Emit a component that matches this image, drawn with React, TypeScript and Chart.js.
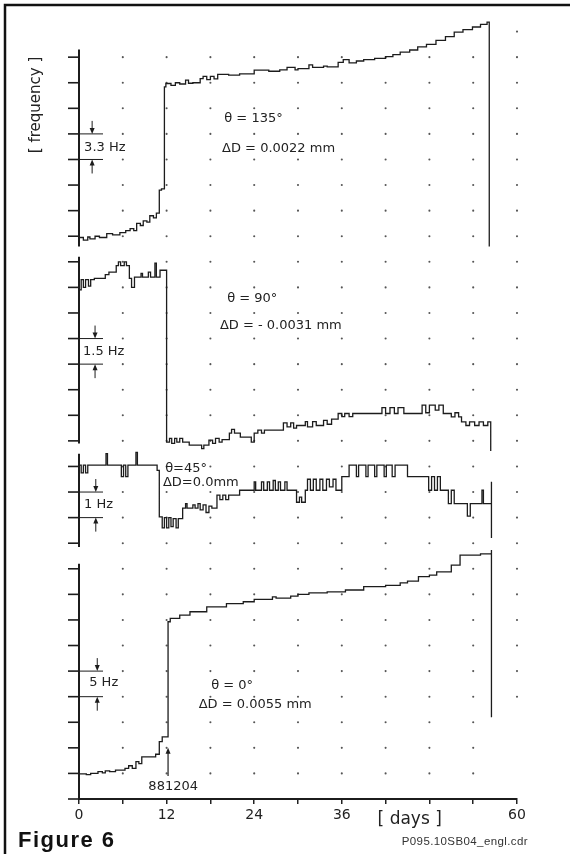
import React, { useEffect, useRef } from "react";
import { Chart, registerables } from "chart.js";

Chart.register(...registerables);

// ---------- data (x = days, y = position in grid rows of the strip chart) ----------
const X_TICK_LABELS = ["0", "", "12", "", "24", "", "36", "", "", "", "60"];

const P135_DAYS = [0, 0.6, 1.2, 1.5, 2.2, 2.8, 3.8, 4.6, 5.6, 6.4, 7.0, 7.5, 7.9, 8.4, 8.8, 9.3, 9.7, 10.2, 10.6, 11.0, 11.3, 11.7, 11.9, 12.6, 13.2, 13.8, 14.6, 15.0, 15.6, 16.6, 17.0, 17.5, 18.0, 18.5, 19.0, 20.5, 22.0, 24.0, 26.0, 27.5, 28.5, 29.6, 30.0, 31.5, 32.0, 33.5, 34.0, 35.5, 36.2, 37.0, 38.0, 39.0, 40.5, 42.0, 43.0, 44.0, 45.3, 46.4, 47.6, 48.9, 50.2, 51.4, 52.6, 53.9, 55.0, 55.9, 56.2, 56.2];
const P135_LEVELS = [21.95, 21.85, 21.97, 21.9, 22.0, 21.95, 22.1, 22.05, 22.14, 22.22, 22.3, 22.22, 22.5, 22.42, 22.6, 22.55, 22.8, 22.72, 22.9, 23.8, 23.85, 27.84, 27.97, 27.9, 28.0, 27.95, 28.1, 27.98, 28.0, 28.16, 28.25, 28.12, 28.25, 28.15, 28.33, 28.3, 28.35, 28.49, 28.45, 28.5, 28.6, 28.5, 28.55, 28.7, 28.6, 28.65, 28.62, 28.8, 28.9, 28.78, 28.85, 28.9, 28.95, 29.02, 29.1, 29.2, 29.28, 29.4, 29.5, 29.66, 29.8, 29.98, 30.08, 30.18, 30.28, 30.37, 30.37, 21.6];

const P90_DAYS = [0, 0.3, 0.6, 0.9, 1.3, 1.6, 2.1, 3.6, 4.1, 5.1, 5.4, 5.7, 6.2, 6.5, 6.9, 7.2, 7.6, 8.5, 8.7, 9.5, 9.8, 10.4, 10.6, 11.1, 12.0, 12.4, 12.7, 13.1, 13.4, 13.8, 14.2, 15.1, 16.8, 17.1, 17.8, 18.3, 18.7, 19.2, 19.6, 20.6, 20.9, 21.3, 22.1, 23.6, 24.0, 24.5, 25.0, 25.4, 28.0, 28.5, 29.0, 29.4, 29.8, 31.0, 31.3, 32.0, 32.5, 33.5, 34.0, 34.6, 35.5, 36.0, 36.4, 37.0, 37.5, 41.5, 42.0, 42.6, 43.2, 43.7, 44.5, 47.0, 47.5, 48.0, 48.8, 49.3, 49.9, 51.0, 51.5, 52.0, 52.4, 53.0, 53.5, 54.2, 54.8, 55.4, 56.0, 56.4, 56.4];
const P90_LEVELS = [19.9, 20.3, 20.0, 20.3, 20.05, 20.3, 20.35, 20.5, 20.6, 20.85, 21.0, 20.85, 21.0, 20.85, 20.35, 20.0, 20.4, 20.55, 20.4, 20.6, 20.4, 20.95, 20.4, 20.67, 13.95, 14.1, 13.9, 14.1, 13.95, 14.1, 13.95, 13.83, 13.7, 13.83, 14.03, 13.9, 14.1, 13.95, 14.05, 14.3, 14.45, 14.3, 14.15, 13.95, 14.3, 14.42, 14.3, 14.42, 14.7, 14.55, 14.7, 14.5, 14.6, 14.75, 14.55, 14.75, 14.6, 14.8, 14.65, 14.85, 15.07, 14.95, 15.07, 14.95, 15.07, 15.3, 15.07, 15.3, 15.07, 15.3, 15.07, 15.4, 15.1, 15.4, 15.2, 15.4, 15.07, 14.94, 15.1, 14.94, 14.74, 14.6, 14.74, 14.6, 14.74, 14.6, 14.74, 14.74, 13.6];

const P45_DAYS = [0, 0.3, 0.6, 0.9, 1.2, 3.7, 3.9, 5.8, 6.1, 6.4, 6.7, 7.8, 8.0, 10.7, 11.0, 11.4, 11.7, 12.0, 12.3, 12.6, 12.9, 13.3, 13.6, 14.2, 14.6, 14.8, 15.6, 15.9, 16.3, 16.6, 17.0, 17.4, 17.8, 18.2, 18.9, 19.3, 19.7, 20.1, 20.5, 22.0, 24.0, 24.2, 25.0, 25.3, 25.8, 26.1, 26.6, 26.9, 27.3, 27.6, 28.2, 28.5, 29.8, 30.2, 30.5, 31.0, 31.3, 31.7, 32.1, 32.5, 33.0, 33.4, 33.9, 34.3, 34.8, 35.2, 36.0, 37.0, 38.0, 38.3, 39.3, 39.6, 40.5, 40.8, 41.8, 42.1, 42.9, 43.3, 45.0, 47.9, 48.3, 48.7, 49.1, 49.5, 50.6, 51.0, 51.4, 53.2, 53.6, 55.2, 55.4, 56.5, 56.5, 56.5];
const P45_LEVELS = [13.05, 12.75, 13.05, 12.75, 13.05, 13.5, 13.05, 12.6, 13.05, 12.6, 13.05, 13.55, 13.05, 12.85, 11.03, 10.6, 11.0, 10.6, 11.0, 10.65, 10.96, 10.6, 10.96, 11.37, 11.55, 11.37, 11.5, 11.37, 11.55, 11.3, 11.5, 11.2, 11.45, 11.37, 11.88, 11.7, 11.88, 11.7, 11.88, 12.07, 12.4, 12.07, 12.4, 12.07, 12.4, 12.07, 12.45, 12.07, 12.4, 12.07, 12.4, 12.07, 11.6, 11.8, 11.6, 12.07, 12.5, 12.07, 12.5, 12.07, 12.5, 12.07, 12.5, 12.2, 12.5, 12.07, 12.6, 13.05, 12.6, 13.05, 12.6, 13.05, 12.6, 13.05, 12.6, 13.05, 12.6, 13.05, 12.6, 12.07, 12.6, 12.07, 12.6, 12.07, 11.55, 12.07, 11.55, 11.06, 11.55, 12.07, 11.55, 11.55, 12.4, 10.2];

const P0_DAYS = [0, 1.0, 1.6, 2.6, 3.2, 3.6, 4.2, 5.0, 6.3, 6.8, 7.3, 7.8, 8.2, 8.6, 10.0, 10.5, 11.0, 11.4, 12.2, 12.5, 13.8, 15.2, 17.5, 20.2, 22.5, 24.0, 26.5, 27.0, 29.0, 30.0, 31.5, 34.0, 36.5, 39.0, 42.0, 44.0, 45.0, 46.5, 48.0, 49.0, 51.0, 52.2, 55.0, 56.5, 56.5, 56.5];
const P0_LEVELS = [0.98, 0.95, 1.0, 1.07, 1.02, 1.1, 1.07, 1.13, 1.2, 1.3, 1.2, 1.46, 1.38, 1.65, 1.65, 1.75, 2.24, 2.43, 6.93, 7.06, 7.19, 7.32, 7.51, 7.64, 7.71, 7.8, 7.9, 7.85, 7.93, 8.0, 8.06, 8.1, 8.17, 8.3, 8.35, 8.45, 8.52, 8.69, 8.75, 8.88, 9.14, 9.53, 9.58, 9.6, 9.73, 3.2];

// panel frames: vertical axis extent and tick rows
const AXIS_FROM = [21.6, 13.9, 9.85, 0];
const AXIS_TO = [29.3, 21.2, 13.5, 9.2];
const TICK_FIRST = [22, 14, 10, 0];
const TICK_LAST = [29, 21, 13, 9];

// scale bars (upper row of each bar) and labels
const BAR_ROW = [26, 18, 12, 5];
const BAR_LABEL = ["3.3 Hz", "1.5 Hz", "1 Hz", "5 Hz"];
const BAR_LABEL_POS = [[0.7, 25.48], [0.55, 17.47], [0.7, 11.49], [1.4, 4.53]];
const BAR_ARROW_DAY = [1.8, 2.2, 2.3, 2.5];

const THETA_LABEL = ["θ = 135°", "θ = 90°", "θ=45°", "θ = 0°"];
const THETA_POS = [[19.9, 26.6], [20.3, 19.58], [11.8, 12.93], [18.1, 4.45]];
const DELTA_LABEL = ["ΔD = 0.0022 mm", "ΔD = - 0.0031 mm", "ΔD=0.0mm", "ΔD = 0.0055 mm"];
const DELTA_POS = [[19.6, 25.44], [19.3, 18.52], [11.5, 12.35], [16.4, 3.67]];

const GRID_DAYS = [6, 12, 18, 24, 30, 36, 42, 48, 54, 60];
const GRID_ROW_MAX = 29;

const INK = "#1c1c1c";
const FONT = "'DejaVu Sans', 'Liberation Sans', sans-serif";

const zip = (d: number[], v: number[]) =>
  d.slice(0, Math.min(d.length, v.length)).map((x, i) => ({ x, y: v[i] }));

function arrow(ctx: CanvasRenderingContext2D, x: number, tipY: number, tailY: number) {
  const dir = tipY > tailY ? 1 : -1;
  ctx.beginPath();
  ctx.moveTo(x, tailY);
  ctx.lineTo(x, tipY - dir * 3);
  ctx.stroke();
  ctx.beginPath();
  ctx.moveTo(x, tipY);
  ctx.lineTo(x - 2.5, tipY - dir * 6);
  ctx.lineTo(x + 2.5, tipY - dir * 6);
  ctx.closePath();
  ctx.fill();
}

const stripPlugin = {
  id: "strip",
  beforeDatasetsDraw(chart: any) {
    const { ctx, scales } = chart;
    const xs = scales.x;
    const ys = scales.y;
    ctx.save();
    // frame
    ctx.strokeStyle = "#111";
    ctx.lineWidth = 2.5;
    ctx.strokeRect(5, 5, 600, 900);

    // dotted grid
    ctx.fillStyle = "#555";
    for (const d of GRID_DAYS) {
      for (let r = 1; r <= GRID_ROW_MAX + (d === 60 ? 1 : 0); r++) {
        if (d === 60 && r <= 3) continue;
        ctx.beginPath();
        ctx.arc(xs.getPixelForValue(d), ys.getPixelForValue(r), 1.05, 0, Math.PI * 2);
        ctx.fill();
      }
    }

    // panel axes
    const x0 = xs.getPixelForValue(0);
    ctx.strokeStyle = INK;
    ctx.fillStyle = INK;
    for (let p = 0; p < 4; p++) {
      ctx.lineWidth = 2;
      ctx.beginPath();
      ctx.moveTo(x0, ys.getPixelForValue(AXIS_FROM[p]));
      ctx.lineTo(x0, ys.getPixelForValue(AXIS_TO[p]));
      ctx.stroke();
      ctx.lineWidth = 1.6;
      for (let r = TICK_FIRST[p]; r <= TICK_LAST[p]; r++) {
        const y = ys.getPixelForValue(r);
        ctx.beginPath();
        ctx.moveTo(x0 - 11, y);
        ctx.lineTo(x0, y);
        ctx.stroke();
      }
      // scale bar
      const yTop = ys.getPixelForValue(BAR_ROW[p]);
      const yBot = ys.getPixelForValue(BAR_ROW[p] - 1);
      ctx.lineWidth = 1;
      ctx.beginPath();
      ctx.moveTo(x0, yTop);
      ctx.lineTo(x0 + 24, yTop);
      ctx.moveTo(x0, yBot);
      ctx.lineTo(x0 + 24, yBot);
      ctx.stroke();
      const ax = xs.getPixelForValue(BAR_ARROW_DAY[p]);
      arrow(ctx, ax, yTop, yTop - 13);
      arrow(ctx, ax, yBot, yBot + 14);
    }
    // event arrow under the 0° jump
    ctx.lineWidth = 1.2;
    arrow(ctx, xs.getPixelForValue(12.2), ys.getPixelForValue(2.0), ys.getPixelForValue(0.9));
    ctx.restore();
  },
  afterDraw(chart: any) {
    const { ctx, scales } = chart;
    const xs = scales.x;
    const ys = scales.y;
    ctx.save();
    ctx.fillStyle = "#222";
    ctx.textBaseline = "middle";
    ctx.textAlign = "left";
    ctx.font = `13px ${FONT}`;
    for (let p = 0; p < 4; p++) {
      ctx.fillText(THETA_LABEL[p], xs.getPixelForValue(THETA_POS[p][0]), ys.getPixelForValue(THETA_POS[p][1]));
      ctx.fillText(DELTA_LABEL[p], xs.getPixelForValue(DELTA_POS[p][0]), ys.getPixelForValue(DELTA_POS[p][1]));
      ctx.fillText(BAR_LABEL[p], xs.getPixelForValue(BAR_LABEL_POS[p][0]), ys.getPixelForValue(BAR_LABEL_POS[p][1]));
    }
    ctx.textAlign = "center";
    ctx.fillText("881204", xs.getPixelForValue(12.9), ys.getPixelForValue(0.47));

    // axis titles
    ctx.font = `17px ${FONT}`;
    ctx.fillText("[ days ]", xs.getPixelForValue(45.3), 820);
    ctx.save();
    ctx.translate(36, 105);
    ctx.rotate(-Math.PI / 2);
    ctx.font = `15px ${FONT}`;
    ctx.fillText("[ frequency ]", 0, 0);
    ctx.restore();

    // figure caption
    ctx.textAlign = "left";
    ctx.fillStyle = "#111";
    ctx.font = `bold 22px 'Liberation Sans', Arial, sans-serif`;
    (ctx as any).letterSpacing = "1.5px";
    ctx.fillText("Figure 6", 18, 841);
    (ctx as any).letterSpacing = "0.4px";
    ctx.fillStyle = "#333";
    ctx.font = `11.5px 'Liberation Sans', Arial, sans-serif`;
    ctx.textAlign = "right";
    ctx.fillText("P095.10SB04_engl.cdr", 528, 842);
    (ctx as any).letterSpacing = "0px";
    ctx.restore();
  },
};

export default function App() {
  const ref = useRef<HTMLCanvasElement>(null);
  useEffect(() => {
    document.body.style.margin = "0";
    const canvas = ref.current;
    if (!canvas) return;
    const series = [
      zip(P135_DAYS, P135_LEVELS),
      zip(P90_DAYS, P90_LEVELS),
      zip(P45_DAYS, P45_LEVELS),
      zip(P0_DAYS, P0_LEVELS),
    ];
    const chart = new Chart(canvas, {
      type: "line",
      data: {
        datasets: series.map((data) => ({
          data,
          stepped: true,
          borderColor: INK,
          borderWidth: 1.3,
          pointRadius: 0,
          fill: false,
          tension: 0,
        })),
      },
      options: {
        responsive: false,
        animation: false,
        devicePixelRatio: 1,
        parsing: false as any,
        layout: { padding: { left: 79, right: 53, top: 6, bottom: 25 } },
        plugins: {
          legend: { display: false },
          tooltip: { enabled: false },
          title: { display: false },
        },
        scales: {
          x: {
            type: "linear",
            min: 0,
            max: 60,
            afterFit: (s: any) => {
              s.height = 30;
            },
            ticks: {
              stepSize: 6,
              autoSkip: false,
              maxRotation: 0,
              padding: 3,
              color: "#222",
              font: { family: FONT, size: 14 },
              callback: (_v: any, i: number) => X_TICK_LABELS[i] ?? "",
            },
            grid: {
              drawOnChartArea: false,
              drawTicks: true,
              tickLength: 5,
              color: "#222",
              lineWidth: 1.5,
            },
            border: { display: true, color: "#1c1c1c", width: 2 },
          },
          y: { type: "linear", min: 0, max: 31, display: false },
        },
      },
      plugins: [stripPlugin],
    });
    return () => chart.destroy();
  }, []);
  return (
    <div style={{ position: "fixed", left: 0, top: 0, width: 570, height: 854, background: "#fff" }}>
      <canvas ref={ref} width={570} height={854} style={{ display: "block" }} />
    </div>
  );
}
